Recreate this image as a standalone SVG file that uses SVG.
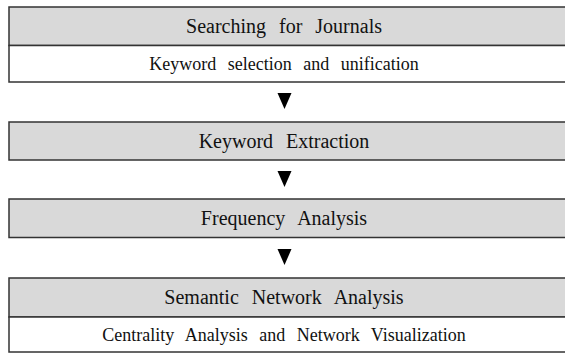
<svg xmlns="http://www.w3.org/2000/svg" width="565" height="353" viewBox="0 0 565 353">
<style>
.hdr{fill:#d9d9d9;stroke:#333;stroke-width:1.5}
.sub{fill:#fff;stroke:#333;stroke-width:1.5}
.t{font-family:"Liberation Serif",serif;font-size:20px;fill:#111;text-anchor:middle;word-spacing:8px}
.s{font-family:"Liberation Serif",serif;font-size:18px;fill:#111;text-anchor:middle;word-spacing:7px}
.arr{fill:#000}
</style>
<rect width="565" height="353" fill="#fff"/>
<g id="node-searching">
<rect class="hdr" x="9" y="7" width="570" height="38.5"/>
<rect class="sub" x="9" y="45.5" width="570" height="36.5"/>
<text class="t" x="284" y="33">Searching for Journals</text>
<text class="s" x="284" y="70">Keyword selection and unification</text>
</g>
<g id="node-extraction">
<rect class="hdr" x="9" y="122" width="570" height="38"/>
<text class="t" x="284" y="148">Keyword Extraction</text>
</g>
<g id="node-frequency">
<rect class="hdr" x="9" y="199" width="570" height="38.5"/>
<text class="t" x="284" y="225">Frequency Analysis</text>
</g>
<g id="node-semantic">
<rect class="hdr" x="9" y="278" width="570" height="39"/>
<rect class="sub" x="9" y="317" width="570" height="35"/>
<text class="t" x="284" y="304">Semantic Network Analysis</text>
<text class="s" x="284" y="341">Centrality Analysis and Network Visualization</text>
</g>
<g id="connectors">
<polygon class="arr" points="277.5,93 291.5,93 284.5,109"/>
<polygon class="arr" points="277.5,171 291.5,171 284.5,187"/>
<polygon class="arr" points="277.5,249 291.5,249 284.5,265"/>
</g>
</svg>
